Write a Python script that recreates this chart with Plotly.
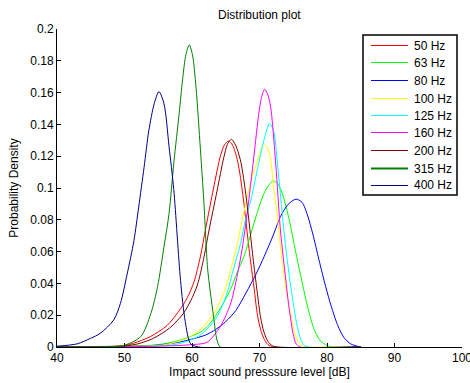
import plotly.graph_objects as go

# ---- data ----
labels = ["50 Hz", "63 Hz", "80 Hz", "100 Hz", "125 Hz", "160 Hz", "200 Hz", "315 Hz", "400 Hz"]

x_50 = [40, 46, 49.9, 51.3, 53.8, 56.3, 58.3, 59.3, 60.3, 61.25, 62.0, 63.2, 64.2, 64.8, 65.4, 66.0, 66.7, 67.2, 67.7, 68.2, 68.7, 69.2, 69.7, 70.2, 70.8, 71.4, 72.2, 85]
y_50 = [0, 0.0003, 0.0008, 0.0023, 0.0065, 0.0135, 0.024, 0.031, 0.041, 0.057, 0.074, 0.100, 0.120, 0.127, 0.1296, 0.127, 0.118, 0.106, 0.090, 0.071, 0.053, 0.037, 0.020, 0.0105, 0.004, 0.001, 0, 0]

x_63 = [40, 50, 55, 58, 60, 61.3, 62.5, 63.7, 64.7, 65.7, 66.7, 67.7, 68.7, 69.7, 70.6, 71.4, 72.1, 72.8, 73.5, 74.4, 75.4, 76.3, 77.2, 78.1, 79.0, 80.0, 81.0, 85]
y_63 = [0, 0.0005, 0.0015, 0.004, 0.007, 0.0095, 0.014, 0.021, 0.028, 0.036, 0.047, 0.057, 0.071, 0.085, 0.096, 0.102, 0.1045, 0.102, 0.095, 0.080, 0.059, 0.041, 0.024, 0.011, 0.004, 0.001, 0, 0]

x_80 = [40, 50, 55, 58, 60, 62, 63.5, 65, 66.5, 68, 69.5, 70.7, 72.1, 73.1, 74.2, 75.4, 76.3, 77.1, 77.9, 78.8, 79.8, 80.6, 81.6, 82.5, 83.5, 84.5, 85]
y_80 = [0, 0.0003, 0.0012, 0.003, 0.005, 0.0075, 0.011, 0.016, 0.023, 0.034, 0.046, 0.057, 0.071, 0.082, 0.0895, 0.093, 0.091, 0.083, 0.071, 0.055, 0.038, 0.026, 0.0135, 0.006, 0.002, 0.0005, 0]

x_100 = [40, 52, 56, 59, 61.25, 63.2, 64.7, 65.7, 66.7, 67.44, 68.2, 68.9, 69.7, 70.2, 70.65, 71.1, 71.65, 72.1, 72.6, 73.1, 73.6, 74.1, 74.6, 75.2, 75.85, 76.5, 77, 85]
y_100 = [0, 0.0005, 0.0015, 0.005, 0.011, 0.021, 0.034, 0.048, 0.065, 0.080, 0.095, 0.107, 0.117, 0.124, 0.1277, 0.126, 0.118, 0.100, 0.084, 0.063, 0.046, 0.032, 0.021, 0.009, 0.0023, 0.0003, 0, 0]

x_125 = [40, 54, 58, 61.25, 63.7, 65.2, 66.2, 67.2, 67.9, 68.7, 69.7, 70.65, 71.5, 72.14, 72.6, 72.9, 73.6, 74.1, 74.6, 75.1, 75.6, 76.1, 76.6, 77.2, 85]
y_125 = [0, 0.0005, 0.002, 0.0075, 0.019, 0.034, 0.050, 0.065, 0.080, 0.092, 0.112, 0.130, 0.1407, 0.135, 0.118, 0.105, 0.0736, 0.055, 0.039, 0.025, 0.0128, 0.005, 0.001, 0, 0]

x_160 = [40, 55, 60, 62.24, 64.2, 65.7, 66.7, 67.44, 68.2, 69.17, 69.9, 70.3, 70.76, 71.2, 71.65, 72.4, 73.1, 73.9, 74.4, 75.0, 75.4, 76, 85]
y_160 = [0, 0.0005, 0.0015, 0.003, 0.013, 0.027, 0.045, 0.062, 0.085, 0.120, 0.147, 0.157, 0.162, 0.159, 0.151, 0.1155, 0.0736, 0.042, 0.024, 0.008, 0.0023, 0, 0]

x_200 = [40, 46, 50, 52, 54.3, 56.7, 58.7, 59.8, 60.8, 61.7, 62.5, 63.7, 64.7, 65.3, 65.85, 66.45, 67.15, 67.65, 68.15, 68.65, 69.15, 69.65, 70.15, 70.65, 71.25, 71.9, 72.6, 85]
y_200 = [0, 0.0002, 0.0007, 0.002, 0.0055, 0.012, 0.021, 0.029, 0.039, 0.055, 0.073, 0.098, 0.119, 0.128, 0.1306, 0.127, 0.118, 0.106, 0.090, 0.071, 0.052, 0.035, 0.019, 0.0095, 0.0035, 0.0008, 0, 0]

x_315 = [40, 47, 49.9, 52.4, 53.9, 54.9, 55.85, 56.6, 57.3, 58.1, 58.6, 59.1, 59.6, 60.1, 60.6, 61.25, 61.74, 62.3, 62.73, 63.2, 63.7, 64.2, 85]
y_315 = [0, 0.0002, 0.001, 0.0065, 0.021, 0.038, 0.063, 0.084, 0.1155, 0.147, 0.168, 0.184, 0.190, 0.183, 0.163, 0.124, 0.0925, 0.050, 0.034, 0.019, 0.0044, 0, 0]

x_400 = [40, 43, 45, 46.4, 48.4, 49.4, 50.4, 51.4, 52.1, 52.9, 53.6, 54.4, 55.1, 55.85, 56.6, 57.3, 58.3, 59.0, 59.8, 61, 85]
y_400 = [0.0005, 0.002, 0.0055, 0.0086, 0.017, 0.0275, 0.046, 0.067, 0.088, 0.113, 0.136, 0.153, 0.1606, 0.153, 0.126, 0.099, 0.042, 0.016, 0.002, 0, 0]

xs = [x_50, x_63, x_80, x_100, x_125, x_160, x_200, x_315, x_400]
ys = [y_50, y_63, y_80, y_100, y_125, y_160, y_200, y_315, y_400]
colors = ["#ff0000", "#00ff00", "#0000ff", "#ffff00", "#00ffff", "#ff00ff", "#800000", "#008000", "#000080"]

x_ticks = [40, 50, 60, 70, 80, 90, 100]
y_ticks = [0, 0.02, 0.04, 0.06, 0.08, 0.1, 0.12, 0.14, 0.16, 0.18, 0.2]
y_ticklabels = ["0", "0.02", "0.04", "0.06", "0.08", "0.1", "0.12", "0.14", "0.16", "0.18", "0.2"]

FONT = "Liberation Sans, Arial, sans-serif"
TXT = dict(family=FONT, size=12, color="#000000")
W, H = 470, 383
L, R, T, B = 57, 8, 29, 36
PW, PH = W - L - R, H - T - B


def px_x(p):
    return (p - L) / PW


def px_y(p):
    return (H - B - p) / PH


fig = go.Figure()
for lab, x, y, c in zip(labels, xs, ys, colors):
    fig.add_trace(go.Scatter(x=x, y=y, mode="lines", name=lab, showlegend=False,
                             line=dict(color=c, width=1, shape="spline", smoothing=0.8)))

# legend box drawn like the MATLAB legend
shapes = [dict(type="rect", xref="paper", yref="paper",
               x0=px_x(363), x1=px_x(457), y0=px_y(195), y1=px_y(35),
               line=dict(color="#000000", width=1.5), fillcolor="white", layer="above")]
annotations = [dict(xref="paper", yref="paper", x=px_x(259), y=px_y(15), text="Distribution plot",
                    showarrow=False, xanchor="center", yanchor="middle", font=TXT)]
for i, (lab, c) in enumerate(zip(labels, colors)):
    yy = px_y(round(45 + 17.5 * i) + 0.5)
    shapes.append(dict(type="line", xref="paper", yref="paper",
                       x0=px_x(371), x1=px_x(408), y0=yy, y1=yy,
                       line=dict(color=c, width=2 if i == 7 else 1.2), layer="above"))
    annotations.append(dict(xref="paper", yref="paper", x=px_x(412), y=yy, text=lab,
                            showarrow=False, xanchor="left", yanchor="middle", font=TXT))

fig.update_layout(
    width=W, height=H,
    margin=dict(l=L, r=R, t=T, b=B, autoexpand=False),
    paper_bgcolor="white", plot_bgcolor="white",
    font=TXT,
    showlegend=False,
    shapes=shapes,
    annotations=annotations,
)
fig.update_xaxes(range=[40, 100], tickvals=x_ticks, ticks="inside", ticklen=4,
                 showline=True, linecolor="#000000", linewidth=1, tickcolor="#000000",
                 showgrid=False, zeroline=False, mirror=False, automargin=False,
                 ticklabeloverflow="allow",
                 title=dict(text="Impact sound presssure level [dB]", standoff=3, font=TXT),
                 tickfont=TXT)
fig.update_yaxes(range=[0, 0.2], tickvals=y_ticks, ticktext=y_ticklabels, ticks="inside", ticklen=4,
                 showline=True, linecolor="#000000", linewidth=1, tickcolor="#000000",
                 showgrid=False, zeroline=False, mirror=False, automargin=False,
                 title=dict(text="Probability Density", standoff=9, font=TXT),
                 tickfont=TXT)

fig.write_html("out.html",
               config={"displayModeBar": False, "staticPlot": True},
               post_script="document.body.style.margin='0';document.body.style.padding='0';"
                           "document.body.style.overflow='hidden';")
